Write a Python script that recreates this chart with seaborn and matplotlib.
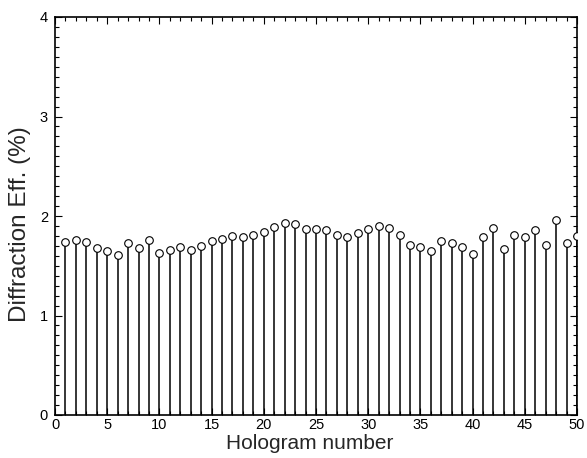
import matplotlib
matplotlib.use("Agg")
import matplotlib.pyplot as plt
import seaborn as sns
import pandas as pd
from matplotlib.ticker import MultipleLocator

hologram = list(range(1, 51))
efficiency = [1.74, 1.76, 1.74, 1.68, 1.65, 1.61, 1.73, 1.68, 1.76, 1.63,
              1.66, 1.69, 1.66, 1.70, 1.75, 1.77, 1.80, 1.79, 1.81, 1.84,
              1.89, 1.93, 1.92, 1.87, 1.87, 1.86, 1.81, 1.79, 1.83, 1.87,
              1.90, 1.88, 1.81, 1.71, 1.69, 1.65, 1.75, 1.73, 1.69, 1.62,
              1.79, 1.88, 1.67, 1.81, 1.79, 1.86, 1.71, 1.96, 1.73, 1.80]
x_ticks = [0, 5, 10, 15, 20, 25, 30, 35, 40, 45, 50]
y_ticks = [0, 1, 2, 3, 4]

df = pd.DataFrame({"Hologram number": hologram, "Diffraction Eff. (%)": efficiency})

sns.set_theme(style="ticks")
plt.rcParams["font.family"] = ["Liberation Sans", "DejaVu Sans"]

fig = plt.figure(figsize=(5.87, 4.58), dpi=100)
ax = fig.add_axes([55 / 587, 43 / 458, 522 / 587, 398 / 458])

ax.vlines(df["Hologram number"], 0, df["Diffraction Eff. (%)"], color="black", linewidth=1.1, zorder=2)
sns.scatterplot(data=df, x="Hologram number", y="Diffraction Eff. (%)", ax=ax,
                marker="o", s=30, facecolor="white", edgecolor="black", linewidth=0.8, zorder=3)

ax.set_xlim(0, 50)
ax.set_ylim(0, 4)
ax.set_xticks(x_ticks)
ax.set_yticks(y_ticks)
ax.xaxis.set_minor_locator(MultipleLocator(1))
ax.yaxis.set_minor_locator(MultipleLocator(0.1))
ax.tick_params(which="both", direction="in", top=True, right=True, labelsize=10.5, width=0.8, colors="black")
ax.tick_params(which="major", length=5)
ax.tick_params(axis="y", which="major", pad=5)
ax.tick_params(axis="x", which="major", pad=2)
ax.tick_params(which="minor", length=3)
for s in ax.spines.values():
    s.set_linewidth(1.2)
    s.set_color("black")

ax.set_xlabel("Hologram number", fontsize=15)
ax.set_ylabel("Diffraction Eff. (%)", fontsize=17.5)
ax.xaxis.set_label_coords(0.487, -0.047)
ax.yaxis.set_label_coords(-0.046, 0.48)

fig.savefig("out.png", dpi=100)
